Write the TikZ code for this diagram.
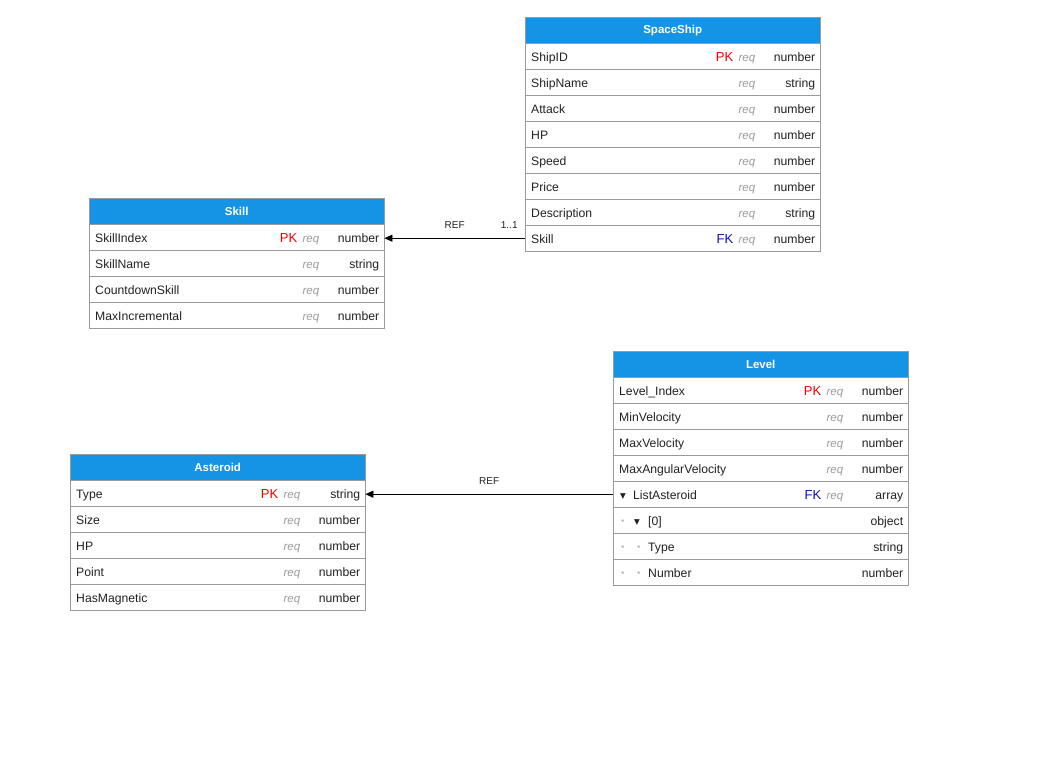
\documentclass[tikz,border=0pt]{standalone}
\usepackage{fontspec}
\setmainfont{Liberation Sans}
\newfontfamily\symfont{DejaVu Sans}
\usetikzlibrary{arrows.meta,positioning}

\definecolor{headblue}{HTML}{1593E5}
\definecolor{tableline}{HTML}{9A9A9A}
\definecolor{fieldtext}{HTML}{222222}
\definecolor{reqgray}{HTML}{9C9C9C}
\definecolor{pkred}{HTML}{F20000}
\definecolor{fkblue}{HTML}{1010A8}
\definecolor{dotgray}{HTML}{BDBDBD}

\tikzset{
  tablehead/.style={draw=tableline, fill=headblue, text=white, font=\bfseries\fontsize{11.5}{13}\selectfont,
    minimum width=295pt, minimum height=26pt, inner sep=0pt, anchor=north west},
  tablerow/.style={draw=tableline, fill=white, minimum width=295pt, minimum height=26pt,
    inner sep=0pt, anchor=north west},
  fieldname/.style={anchor=base west, inner sep=0pt, text=fieldtext},
  fieldtype/.style={anchor=base east, inner sep=0pt, text=fieldtext},
  keytag/.style={anchor=base east, inner sep=0pt, font=\fontsize{13}{15}\selectfont},
  reqtag/.style={anchor=base east, inner sep=0pt, text=reqgray, font=\itshape\fontsize{11.5}{13}\selectfont},
  reflabel/.style={inner sep=0pt, text=fieldtext, font=\fontsize{10}{12}\selectfont},
  refline/.style={-{Triangle[length=8pt,width=7pt]}, line width=0.8pt, draw=black},
}

% key column of a row
\newcommand{\keyreq}[1]{\node[reqtag] at ([xshift=-65pt,yshift=-5pt]#1.east) {req};}
\newcommand{\keypk}[1]{\node[keytag,text=pkred] at ([xshift=-87pt,yshift=-5pt]#1.east) {PK}; \keyreq{#1}}
\newcommand{\keyfk}[1]{\node[keytag,text=fkblue] at ([xshift=-87pt,yshift=-5pt]#1.east) {FK}; \keyreq{#1}}
\newcommand{\keynone}[1]{}

% tree marks of nested fields
\newcommand{\tri}{\raisebox{1pt}{\symfont\fontsize{7.5}{7.5}\selectfont ▼}}
\newcommand{\dotmark}{\raisebox{0.5pt}{\color{dotgray}\symfont\fontsize{9}{9}\selectfont •}}

% table: id, x, y, title, rows name/key/type
\newcommand{\erdtable}[5]{%
  \node[tablehead] (#1) at (#2,#3) {#4};
  \foreach \fname/\fkey/\ftype [count=\i] in {#5} {
    \node[tablerow] (#1-\i) at (#2,{#3+26*\i}) {};
    \node[fieldname] at ([xshift=6pt,yshift=-5pt]#1-\i.west) {\fname};
    \node[fieldtype] at ([xshift=-5pt,yshift=-5pt]#1-\i.east) {\ftype};
    \fkey{#1-\i}
  }
}

\begin{document}
\begin{tikzpicture}[x=1pt, y=-1pt, font=\fontsize{12.2}{14}\selectfont]
  \useasboundingbox[fill=white] (0,0) rectangle (1053,761);

  \erdtable{ship}{525}{17}{SpaceShip}{
    ShipID/\keypk/number, ShipName/\keyreq/string, Attack/\keyreq/number,
    HP/\keyreq/number, Speed/\keyreq/number, Price/\keyreq/number,
    Description/\keyreq/string, Skill/\keyfk/number}

  \erdtable{skill}{89}{198}{Skill}{
    SkillIndex/\keypk/number, SkillName/\keyreq/string,
    CountdownSkill/\keyreq/number, MaxIncremental/\keyreq/number}

  \erdtable{level}{613}{351}{Level}{
    Level\_Index/\keypk/number, MinVelocity/\keyreq/number,
    MaxVelocity/\keyreq/number, MaxAngularVelocity/\keyreq/number,
    {\makebox[14pt][l]{\hspace{1pt}\tri}ListAsteroid}/\keyfk/array,
    {\makebox[15pt][l]{\hspace{1pt}\dotmark}\makebox[14pt][l]{\tri}[0]}/\keynone/object,
    {\makebox[15pt][l]{\hspace{1pt}\dotmark}\makebox[14pt][l]{\hspace{2pt}\dotmark}Type}/\keynone/string,
    {\makebox[15pt][l]{\hspace{1pt}\dotmark}\makebox[14pt][l]{\hspace{2pt}\dotmark}Number}/\keynone/number}

  \erdtable{aster}{70}{454}{Asteroid}{
    Type/\keypk/string, Size/\keyreq/number, HP/\keyreq/number,
    Point/\keyreq/number, HasMagnetic/\keyreq/number}

  % references
  \draw[refline] (ship-8.west) -- node[reflabel, above=9pt] {REF}
    node[reflabel, pos=0.05, anchor=south east, yshift=9pt] {1..1} (ship-8.west -| skill-1.east);
  \draw[refline] (level-5.west) -- node[reflabel, above=9pt] {REF} (level-5.west -| aster-1.east);
\end{tikzpicture}
\end{document}
